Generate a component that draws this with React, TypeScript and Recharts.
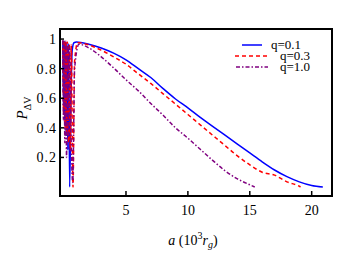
import React from 'react';
import { LineChart, Line, XAxis, YAxis } from 'recharts';

// a in units of 10^3 r_g, P_ΔV
const blueA = [-0.1, -0.05, 0, 0.05, 0.1, 0.16, 0.22, 0.3, 0.36, 0.45, 0.55, 0.65, 0.8, 1.0, 2, 3, 4, 5, 6, 7, 8, 9, 10, 11, 12, 13, 14, 15, 16, 17, 18, 19, 20, 20.9];
const blueP = [0.99, 0.55, 0.99, 0.45, 0.985, 0.35, 0.98, 0.25, 0.97, 0.0, 0.55, 0.92, 0.975, 0.98, 0.965, 0.94, 0.905, 0.86, 0.8, 0.74, 0.665, 0.595, 0.535, 0.47, 0.41, 0.35, 0.29, 0.23, 0.17, 0.115, 0.07, 0.035, 0.01, 0.0];

const redA = [-0.1, -0.04, 0.02, 0.08, 0.14, 0.2, 0.27, 0.35, 0.42, 0.5, 0.58, 0.72, 0.85, 1.1, 2, 3, 4, 5, 6, 7, 8, 9, 10, 11, 12, 13, 14, 15, 16, 17, 18, 19, 19.1];
const redP = [0.99, 0.5, 0.99, 0.4, 0.985, 0.35, 0.98, 0.3, 0.97, 0.25, 0.96, 0.0, 0.85, 0.975, 0.96, 0.925, 0.88, 0.83, 0.765, 0.7, 0.63, 0.56, 0.49, 0.42, 0.35, 0.28, 0.21, 0.15, 0.1, 0.08, 0.035, 0.005, 0.0];

const purpleA = [-0.1, -0.05, 0, 0.06, 0.12, 0.2, 0.28, 0.36, 0.45, 0.55, 0.7, 0.85, 1.2, 2, 3, 4, 5, 6, 7, 8, 9, 10, 11, 12, 13, 14, 15, 15.4];
const purpleP = [0.99, 0.45, 0.98, 0.3, 0.97, 0.2, 0.96, 0.35, 0.95, 0.4, 0.03, 0.8, 0.965, 0.94, 0.88, 0.805, 0.725, 0.65, 0.565, 0.485, 0.4, 0.33, 0.255, 0.18, 0.11, 0.055, 0.015, 0.0];

const xTicks = [5, 10, 15, 20];
const yTicks = [0.2, 0.4, 0.6, 0.8, 1];

const seriesNames = ['q=0.1', 'q=0.3', 'q=1.0'];

const toRows = (a: number[], p: number[]) => a.map((v, i) => ({ a: v, p: p[i] }));

const blueData = toRows(blueA, blueP);
const redData = toRows(redA, redP);
const purpleData = toRows(purpleA, purpleP);

const FONT = '"Liberation Serif", "DejaVu Serif", serif';

const PLOT_LEFT = 60;
const PLOT_BOTTOM = 195;

const YTick = (props: any) => {
  const { y, payload } = props;
  const label = payload.value === 1 ? '1' : String(payload.value);
  return (
    <g>
      <line x1={PLOT_LEFT} x2={PLOT_LEFT + 4} y1={y} y2={y} stroke="#000" strokeWidth={1.5} />
      <text x={PLOT_LEFT - 3} y={y + 5} textAnchor="end" fontFamily={FONT} fontSize={14} letterSpacing={1} fill="#000">
        {label}
      </text>
    </g>
  );
};

const XTick = (props: any) => {
  const { x, payload } = props;
  return (
    <g>
      <line x1={x} x2={x} y1={PLOT_BOTTOM} y2={PLOT_BOTTOM - 4} stroke="#000" strokeWidth={1.5} />
      <text x={x} y={PLOT_BOTTOM + 20} textAnchor="middle" fontFamily={FONT} fontSize={14} fill="#000">
        {payload.value}
      </text>
    </g>
  );
};

const LegendBox = () => (
  <svg width={120} height={42} style={{ position: 'absolute', left: 231, top: 37 }}>
    <line x1={11} x2={31} y1={8} y2={8} stroke="#0000ff" strokeWidth={1.5} />
    <text x={40} y={12} fontFamily={FONT} fontSize={13} fill="#000">{seriesNames[0]}</text>
    <line x1={4} x2={38} y1={19} y2={19} stroke="#ff0000" strokeWidth={1.5} strokeDasharray="4 3" />
    <text x={49} y={23} fontFamily={FONT} fontSize={13} fill="#000">{seriesNames[1]}</text>
    <line x1={5} x2={37} y1={30} y2={30} stroke="#800080" strokeWidth={1.5} strokeDasharray="4 2 1.5 2" />
    <text x={49} y={34} fontFamily={FONT} fontSize={13} fill="#000">{seriesNames[2]}</text>
  </svg>
);

export default function App() {
  return (
    <div style={{ position: 'absolute', left: 0, top: 0, width: 361, height: 257, background: '#fff' }}>
      <LineChart width={361} height={257} margin={{ top: 29, right: 30, bottom: 32, left: 0 }}>
        <XAxis
          type="number"
          dataKey="a"
          domain={[-0.33, 21.56]}
          ticks={xTicks}
          interval={0}
          allowDataOverflow
          axisLine={false}
          tickLine={false}
          tick={<XTick />}
          height={30}
        />
        <YAxis
          type="number"
          dataKey="p"
          domain={[-0.054, 1.068]}
          ticks={yTicks}
          interval={0}
          allowDataOverflow
          axisLine={false}
          tickLine={false}
          tick={<YTick />}
          width={60}
        />
        <Line data={blueData} dataKey="p" name={seriesNames[0]} type="monotone" stroke="#0000ff" strokeWidth={1.5} dot={false} isAnimationActive={false} />
        <Line data={redData} dataKey="p" name={seriesNames[1]} type="monotone" stroke="#ff0000" strokeWidth={1.5} strokeDasharray="4 3" dot={false} isAnimationActive={false} />
        <Line data={purpleData} dataKey="p" name={seriesNames[2]} type="monotone" stroke="#800080" strokeWidth={1.5} strokeDasharray="4 2 1.5 2" dot={false} isAnimationActive={false} />
        <text transform="translate(27,108) rotate(-90)" textAnchor="middle" fontFamily={FONT} fontSize={15} fill="#000">
          <tspan fontStyle="italic">P</tspan>
          <tspan fontSize={10} dy={4}>ΔV</tspan>
        </text>
        <text x={193} y={245} textAnchor="middle" fontFamily={FONT} fontSize={14} fill="#000">
          <tspan fontStyle="italic">a</tspan>
          <tspan> (10</tspan>
          <tspan fontSize={10} dy={-6}>3</tspan>
          <tspan fontStyle="italic" dy={6}>r</tspan>
          <tspan fontSize={10} fontStyle="italic" dy={3}>g</tspan>
          <tspan dy={-3}>)</tspan>
        </text>
      </LineChart>
      <LegendBox />
      <div
        style={{
          position: 'absolute',
          left: 59,
          top: 28,
          width: 270,
          height: 165,
          border: '2px solid #000',
          pointerEvents: 'none',
        }}
      />
    </div>
  );
}
